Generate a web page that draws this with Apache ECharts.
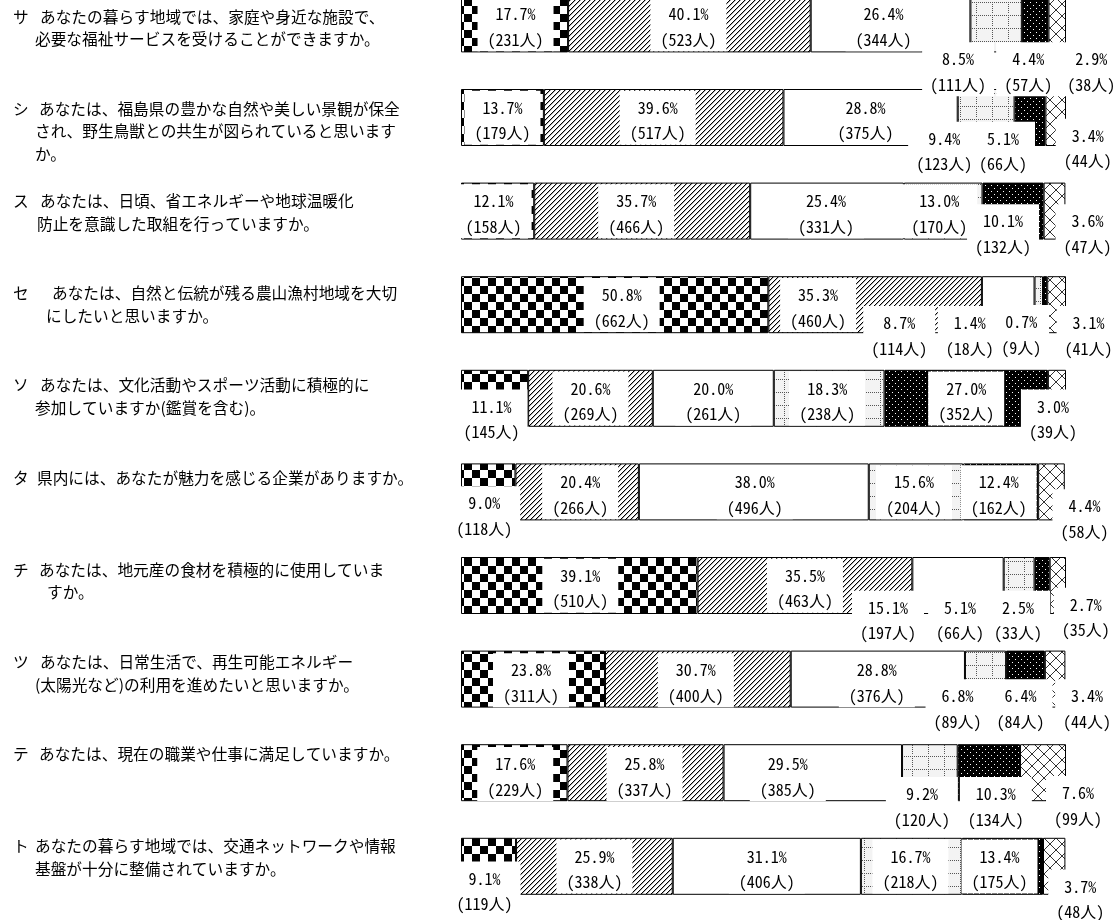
<!DOCTYPE html>
<html>
<head>
<meta charset="utf-8">
<script src="https://cdn.jsdelivr.net/npm/echarts@6/dist/echarts.min.js"></script>
<style>
  html, body { margin: 0; padding: 0; background: #fff; overflow: hidden; }
  #wrap { width: 1120px; height: 920px; overflow: hidden; position: relative; }
  /* the chart canvas starts above the visible area so the first bar is clipped */
  #chart { position: absolute; left: 0; top: -50px; width: 1120px; height: 1000px; }
</style>
</head>
<body>
<div id="wrap"><div id="chart"></div></div>
<script>
// ---- question markers and wrapped question text ----
const qMarks = ['サ', 'シ', 'ス', 'セ', 'ソ', 'タ', 'チ', 'ツ', 'テ', 'ト'];
const qLines = [
  ['あなたの暮らす地域では、家庭や身近な施設で、', '必要な福祉サービスを受けることができますか。'],
  ['あなたは、福島県の豊かな自然や美しい景観が保全', 'され、野生鳥獣との共生が図られていると思います', 'か。'],
  ['あなたは、日頃、省エネルギーや地球温暖化', '防止を意識した取組を行っていますか。'],
  ['あなたは、自然と伝統が残る農山漁村地域を大切', 'にしたいと思いますか。'],
  ['あなたは、文化活動やスポーツ活動に積極的に', '参加していますか(鑑賞を含む)。'],
  ['県内には、あなたが魅力を感じる企業がありますか。'],
  ['あなたは、地元産の食材を積極的に使用していま', 'すか。'],
  ['あなたは、日常生活で、再生可能エネルギー', '(太陽光など)の利用を進めたいと思いますか。'],
  ['あなたは、現在の職業や仕事に満足していますか。'],
  ['あなたの暮らす地域では、交通ネットワークや情報', '基盤が十分に整備されていますか。']
];

// ---- answer shares (%) and respondent counts, one array per answer option ----
const pct1 = [17.7, 13.7, 12.1, 50.8, 11.1, 9.0, 39.1, 23.8, 17.6, 9.1];
const cnt1 = [231, 179, 158, 662, 145, 118, 510, 311, 229, 119];
const pct2 = [40.1, 39.6, 35.7, 35.3, 20.6, 20.4, 35.5, 30.7, 25.8, 25.9];
const cnt2 = [523, 517, 466, 460, 269, 266, 463, 400, 337, 338];
const pct3 = [26.4, 28.8, 25.4, 8.7, 20.0, 38.0, 15.1, 28.8, 29.5, 31.1];
const cnt3 = [344, 375, 331, 114, 261, 496, 197, 376, 385, 406];
const pct4 = [8.5, 9.4, 13.0, 1.4, 18.3, 15.6, 5.1, 6.8, 9.2, 16.7];
const cnt4 = [111, 123, 170, 18, 238, 204, 66, 89, 120, 218];
const pct5 = [4.4, 5.1, 10.1, 0.7, 27.0, 12.4, 2.5, 6.4, 10.3, 13.4];
const cnt5 = [57, 66, 132, 9, 352, 162, 33, 84, 134, 175];
const pct6 = [2.9, 3.4, 3.6, 3.1, 3.0, 4.4, 2.7, 3.4, 7.6, 3.7];
const cnt6 = [38, 44, 47, 41, 39, 58, 35, 44, 99, 48];

const pctSets = [pct1, pct2, pct3, pct4, pct5, pct6];
const cntSets = [cnt1, cnt2, cnt3, cnt4, cnt5, cnt6];

// ---- layout tables (kept apart from the data) ----
// width of the marker column on the first line / indent of wrapped lines
const firstIndent = [27, 26, 27, 39, 27, 24, 26, 27, 26, 22];
const nextIndent  = [22, 22, 24, 33, 22, 22, 34, 22, 22, 22];
// label displacement [dx, dy] of the text block centre from the segment centre
const labelShift = [
  [[1, 3], [-1, 3], [-7, 3], [-38, 48], [-7, 48], [34, 48]],
  [[0, 3], [-6, 3], [-5, 3], [-42, 34], [-27, 34], [32, 31]],
  [[-4, 3], [-6, 3], [-1, 3], [-4, 3], [-10, 23], [33, 23]],
  [[7, 3], [-57, 3], [-109, 31], [-69, 31], [-24, 30], [32, 31]],
  [[-3, 21], [0, 3], [0, 3], [-2, 3], [0, 3], [-4, 21]],
  [[-4, 24], [3, 3], [1, 3], [-2, 3], [-2, 3], [33, 27]],
  [[1, 3], [0, 3], [-70, 35], [-59, 35], [-24, 35], [28, 32]],
  [[-2, 4], [-2, 4], [-1, 4], [-28, 30], [-5, 30], [32, 30]],
  [[1, 4], [-1, 4], [-25, 4], [-8, 34], [7, 34], [35, 33]],
  [[-4, 25], [0, 3], [0, 3], [-1, 3], [-3, 3], [26, 33]]
];
const SHIFT_Y = 50; // the canvas is raised by this many pixels in the page

// ---- monochrome fill patterns ----
function tile(w, h, draw) {
  const c = document.createElement('canvas');
  c.width = w; c.height = h;
  const g = c.getContext('2d');
  draw(g, w, h);
  return c;
}
const checker = tile(16, 16, g => {
  g.fillStyle = '#fff'; g.fillRect(0, 0, 16, 16);
  g.fillStyle = '#000'; g.fillRect(0, 0, 8, 8); g.fillRect(8, 8, 8, 8);
});
const hatch = tile(5, 5, g => {
  g.fillStyle = '#fff'; g.fillRect(0, 0, 5, 5);
  for (let i = 0; i < 5; i++) {
    g.fillStyle = '#000'; g.fillRect(i, 4 - i, 1, 1);
    g.fillStyle = '#b0b0b0'; g.fillRect((i + 1) % 5, 4 - i, 1, 1);
  }
});
const lightGrid = tile(16, 13, g => {
  g.fillStyle = '#f3f3f3'; g.fillRect(0, 0, 16, 13);
  g.fillStyle = '#555';
  for (let x = 0; x < 16; x += 2) g.fillRect(x, 0, 1, 1);
  for (let y = 0; y < 12; y += 2) g.fillRect(0, y, 1, 1);
});
const darkDots = tile(6, 6, g => {
  g.fillStyle = '#000'; g.fillRect(0, 0, 6, 6);
  g.fillStyle = '#fff'; g.fillRect(1, 1, 1, 1); g.fillRect(4, 4, 1, 1);
});
const cross = tile(12, 12, g => {
  g.fillStyle = '#fff'; g.fillRect(0, 0, 12, 12);
  g.fillStyle = '#333';
  for (let i = 0; i < 12; i++) { g.fillRect(i, i, 1, 1); g.fillRect(11 - i, i, 1, 1); }
});
const fills = [
  { image: checker, repeat: 'repeat' },
  { image: hatch, repeat: 'repeat' },
  '#ffffff',
  { image: lightGrid, repeat: 'repeat' },
  { image: darkDots, repeat: 'repeat' },
  { image: cross, repeat: 'repeat' }
];

const FONT = '"Noto Sans CJK JP", "Noto Sans", sans-serif';
const LABEL_FONT = '"Noto Sans Mono CJK JP", "Noto Sans CJK JP", monospace';
const Q_SIZE = 15.7, Q_LH = 22.5;

// rich styles for the question text: marker columns of fixed width
const qRich = { t: { fontSize: Q_SIZE, fontFamily: FONT, color: '#000', lineHeight: Q_LH } };
new Set([...firstIndent, ...nextIndent]).forEach(w => {
  qRich['w' + w] = { width: w, align: 'left', fontSize: Q_SIZE, fontFamily: FONT, color: '#000', lineHeight: Q_LH };
});

// value labels: percentage on the first line, count on the second
const valueRich = {
  a: { fontSize: 16, fontFamily: LABEL_FONT, color: '#000', lineHeight: 28, align: 'center' },
  b: { fontSize: 16, fontFamily: LABEL_FONT, color: '#000', lineHeight: 23, align: 'center' }
};
const BOX_LIFT = 2.75; // box centre sits this far above the text-block centre

const series = pctSets.map((vals, s) => ({
  type: 'bar',
  name: '選択肢' + (s + 1),
  stack: 'total',
  xAxisIndex: 0,
  yAxisIndex: 0,
  barWidth: 57,
  silent: true,
  itemStyle: { color: fills[s], borderColor: '#000', borderWidth: 1 },
  label: {
    show: true,
    position: 'inside',
    formatter: p => `{a|${pctSets[s][p.dataIndex].toFixed(1)}%}\n{b|(${cntSets[s][p.dataIndex]}人)}`,
    rich: valueRich,
    backgroundColor: '#fff',
    padding: [3, 10, 0, 10]
  },
  data: vals.map((v, r) => ({
    value: v,
    label: {
      offset: [labelShift[r][s][0], labelShift[r][s][1] - BOX_LIFT],
      // labels set below the bar sit close together, so their boxes are a little tighter
      padding: labelShift[r][s][1] > 10 ? [3, 8, 0, 8] : [3, 10, 0, 10]
    }
  }))
}));

const chart = echarts.init(document.getElementById('chart'), null, { renderer: 'canvas' });
chart.setOption({
  animation: false,
  backgroundColor: '#fff',
  grid: [
    { left: 461, right: 54, top: SHIFT_Y - 22.9, height: 936, outerBoundsMode: 'none' },
    { left: 0, width: 440, top: SHIFT_Y - 40.65, height: 922, outerBoundsMode: 'none' }
  ],
  xAxis: [
    { gridIndex: 0, type: 'value', min: 0, max: 100, show: false },
    { gridIndex: 1, type: 'value', show: false }
  ],
  yAxis: [
    { gridIndex: 0, type: 'category', inverse: true, data: qMarks, show: false },
    {
      gridIndex: 1, type: 'category', inverse: true, data: qMarks,
      axisLine: { show: false }, axisTick: { show: false }, splitLine: { show: false },
      axisLabel: {
        inside: true, margin: 13, interval: 0, align: 'left', verticalAlign: 'top',
        fontSize: Q_SIZE, fontFamily: FONT, color: '#000', lineHeight: Q_LH,
        rich: qRich,
        formatter: (v, i) => qLines[i].map((t, k) =>
          (k === 0 ? `{w${firstIndent[i]}|${qMarks[i]}}` : `{w${nextIndent[i]}|　}`) + `{t|${t}}`
        ).join('\n')
      }
    }
  ],
  series: series
});
</script>
</body>
</html>
